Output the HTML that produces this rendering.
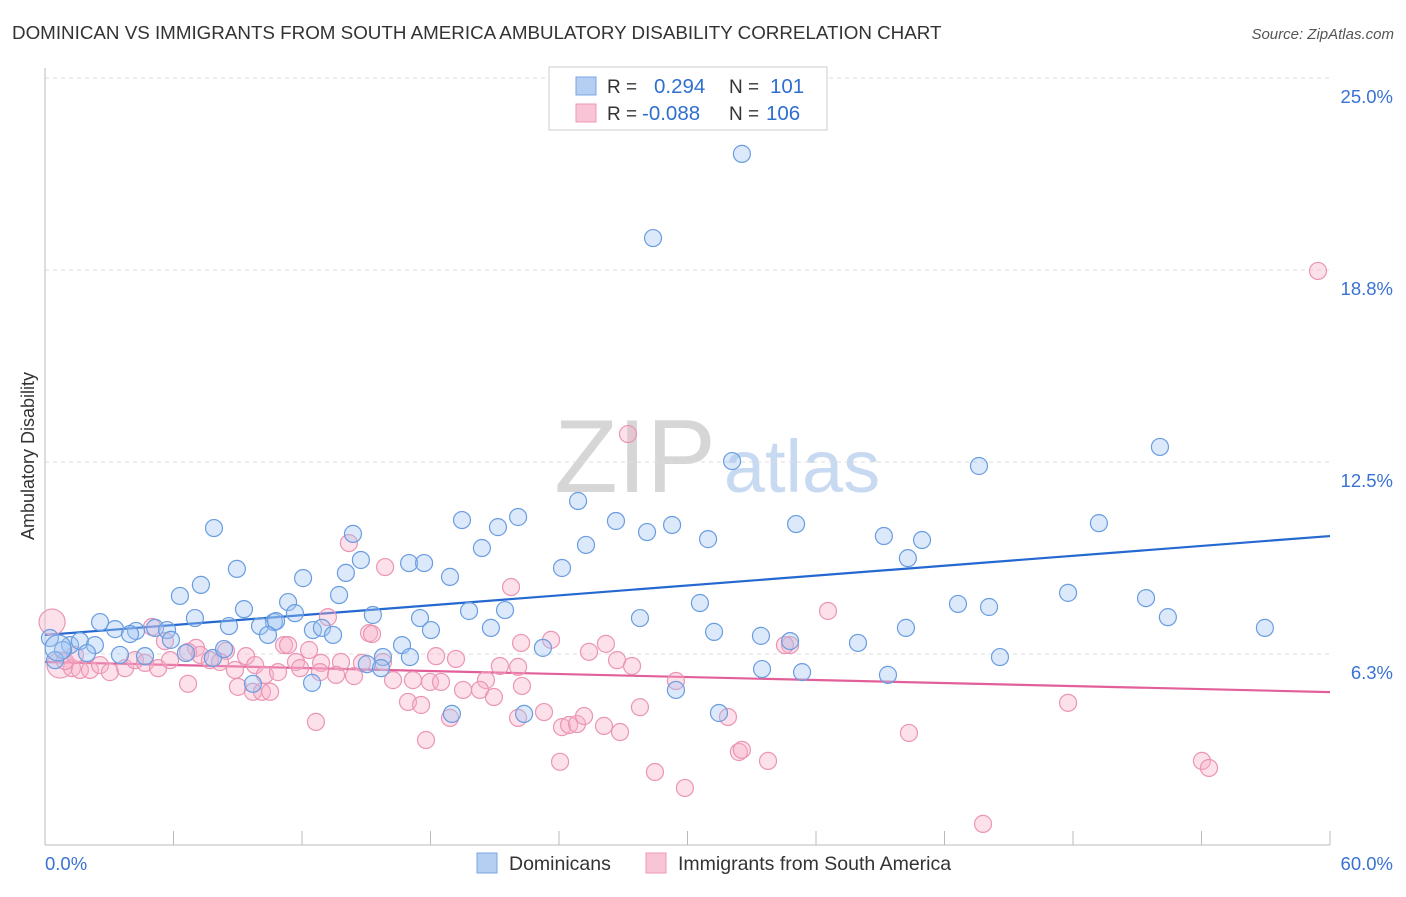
<!DOCTYPE html>
<html><head><meta charset="utf-8"><style>
body{margin:0;background:#fff;font-family:"Liberation Sans",sans-serif;}
svg text{font-family:"Liberation Sans",sans-serif;}
</style></head><body>
<svg id="chart" width="1406" height="892" viewBox="0 0 1406 892" xmlns="http://www.w3.org/2000/svg">
<text x="12" y="39" font-size="18.8" fill="#333">DOMINICAN VS IMMIGRANTS FROM SOUTH AMERICA AMBULATORY DISABILITY CORRELATION CHART</text>
<text x="1394" y="39" font-size="15" fill="#555" text-anchor="end" font-style="italic">Source: ZipAtlas.com</text>
<text transform="translate(34,456) rotate(-90)" font-size="18" fill="#333" text-anchor="middle">Ambulatory Disability</text>
<g>
<text x="635" y="492" font-size="104" fill="#d6d6d6" text-anchor="middle" font-family="Liberation Serif, serif">ZIP</text>
<text x="802" y="492" font-size="74" fill="#c8daf2" text-anchor="middle">atlas</text>
</g>
<g id="grid"></g>
<g id="axes"></g>
<g id="lines"></g>
<g id="pts"></g>
<g>
<rect x="549" y="67" width="278" height="63" fill="#fff" stroke="#ccc"/>
<rect x="576" y="77" width="20" height="18" fill="#b5cff2" stroke="#7aa6e0"/>
<rect x="576" y="104" width="20" height="18" fill="#f8c4d6" stroke="#eb9ab8"/>
<text x="607" y="93" font-size="19" fill="#333">R =</text>
<text x="654" y="93" font-size="20.5" fill="#2f6fd0">0.294</text>
<text x="729" y="93" font-size="19" fill="#333">N =</text>
<text x="770" y="93" font-size="20.5" fill="#2f6fd0">101</text>
<text x="607" y="120" font-size="19" fill="#333">R =</text>
<text x="642" y="120" font-size="20.5" fill="#2f6fd0">-0.088</text>
<text x="729" y="120" font-size="19" fill="#333">N =</text>
<text x="766" y="120" font-size="20.5" fill="#2f6fd0">106</text>
</g>
<g>
<rect x="477" y="853" width="20" height="20" fill="#b5cff2" stroke="#7aa6e0"/>
<text x="509" y="870" font-size="19.5" fill="#333">Dominicans</text>
<rect x="646" y="853" width="20" height="20" fill="#f8c4d6" stroke="#eb9ab8"/>
<text x="678" y="870" font-size="19.5" fill="#333">Immigrants from South America</text>
</g>
</svg>
<script>
const blueX=[32.54,28.39,52.06,32.08,43.61,24.89,19.47,22.09,21.15,26.66,29.28,35.07,49.21,7.89,14.38,28.11,30.96,39.17,40.95,20.40,25.26,40.29,14.75,17.00,17.70,24.14,8.96,14.05,12.05,18.91,7.28,6.30,13.73,47.77,51.41,30.58,9.29,11.35,19.80,21.48,42.63,44.08,15.31,7.00,11.67,10.69,17.51,27.78,52.43,2.57,8.59,10.04,3.27,4.25,5.14,5.70,10.79,12.51,12.93,13.45,20.82,18.02,31.24,33.43,34.79,40.20,56.96,10.41,3.97,0.23,1.17,1.63,2.33,5.88,16.67,23.25,37.96,0.84,1.96,3.50,4.67,6.58,7.84,8.36,15.78,17.04,44.59,15.03,15.69,33.48,35.35,39.36,12.47,9.71,29.46,19.00,22.37,31.47,0.47,0.61];
const blueY=[22.53,19.79,12.99,12.53,12.37,11.23,10.61,10.71,10.38,10.58,10.45,10.48,10.51,10.35,10.16,10.22,9.99,10.09,9.96,9.70,9.80,9.37,9.31,9.21,9.21,9.05,9.02,8.89,8.72,8.76,8.50,8.14,8.17,8.24,8.07,7.91,7.71,7.94,7.65,7.68,7.88,7.78,7.52,7.42,7.58,7.29,7.42,7.42,7.45,7.29,7.16,7.16,7.06,7.00,7.10,7.03,7.32,7.03,7.10,6.87,7.10,7.03,6.97,6.84,6.67,7.10,7.10,6.87,6.90,6.77,6.54,6.67,6.54,6.71,6.54,6.45,6.61,6.38,6.28,6.22,6.18,6.28,6.12,6.41,6.15,6.15,6.15,5.92,5.79,5.76,5.66,5.57,5.31,5.28,5.08,4.30,4.30,4.33,6.05,6.45];
const pinkX=[59.44,27.22,14.19,15.88,21.76,36.56,13.21,15.13,15.27,23.63,22.23,26.19,34.79,34.55,5.00,5.60,7.05,8.45,9.39,11.16,11.35,12.33,11.72,12.89,13.82,14.80,15.78,18.26,19.19,21.24,22.09,25.40,26.71,27.41,29.46,0.33,0.70,1.26,1.63,2.10,2.57,3.03,3.74,4.20,4.67,5.28,5.84,6.68,7.24,7.70,8.17,8.87,9.81,10.27,10.88,11.91,12.84,13.59,14.43,16.25,17.18,17.98,18.49,19.52,20.59,20.31,20.96,22.27,6.68,9.01,9.71,10.13,10.51,16.95,17.56,23.30,12.65,18.91,22.09,24.14,24.47,24.84,25.17,26.10,26.85,27.78,31.89,47.77,17.79,32.40,32.54,33.76,40.34,24.05,28.48,29.88,54.02,54.35,43.80,0.93,1.40];
const pinkY=[18.72,13.41,9.86,9.08,8.43,7.65,7.45,6.93,6.90,6.71,6.61,6.58,6.54,6.54,7.13,6.67,6.45,6.35,6.18,6.54,6.54,6.38,5.99,5.96,5.99,5.96,5.99,6.18,6.09,5.86,5.83,6.32,6.05,5.86,5.37,7.29,5.89,5.79,5.73,5.73,5.89,5.66,5.79,6.05,5.96,5.79,6.05,6.32,6.22,6.05,5.99,5.73,5.89,5.57,5.66,5.79,5.66,5.57,5.53,5.40,5.40,5.34,5.34,5.08,5.40,5.08,4.85,5.21,5.28,5.18,5.02,5.02,5.02,4.69,4.59,4.36,4.04,4.17,4.17,3.87,3.94,3.97,4.23,3.91,3.71,4.52,4.20,4.66,3.45,3.06,3.13,2.77,3.68,2.74,2.41,1.89,2.77,2.54,0.72,6.02,6.22];
const blueTrendX=[0,60];
const blueTrendY=[6.87,10.09];
const pinkTrendX=[0,60];
const pinkTrendY=[5.99,5.01];
const yTicks=[6.25,12.5,18.75,25];
const yTickLabels=["6.3%","12.5%","18.8%","25.0%"];
const xTicks=[0,6,12,18,24,30,36,42,48,54,60];
const xEndLabels=["0.0%","60.0%"];

const NS="http://www.w3.org/2000/svg";
const X=v=>45+v/60*1285;
const Y=v=>78+(25-v)*30.72;
function mk(parent,tag,attrs){const e=document.createElementNS(NS,tag);for(const k in attrs)e.setAttribute(k,attrs[k]);document.getElementById(parent).appendChild(e);return e;}
yTicks.forEach((t,i)=>{
  const l=mk('grid','line',{x1:45,x2:1330,y1:Y(t),y2:Y(t),stroke:'#ddd','stroke-dasharray':'4,4'});
  
  
  const tx=mk('grid','text',{x:1393,y:Y(t)+25,'font-size':18.5,fill:'#3a72d3','text-anchor':'end'});
  tx.textContent=yTickLabels[i];
  
  
});
const ax=mk('axes','line',{x1:45,x2:1330,y1:845,y2:845,stroke:'#bbb'});


const ay=mk('axes','line',{x1:45,x2:45,y1:68,y2:845,stroke:'#bbb'});


xTicks.forEach(t=>{
  const l=mk('axes','line',{x1:X(t),x2:X(t),y1:831,y2:845,stroke:'#bbb'});
  
  
});
const xl0=mk('axes','text',{x:45,y:870,'font-size':18.5,fill:'#3a72d3'});
xl0.textContent=xEndLabels[0];


const xl1=mk('axes','text',{x:1393,y:870,'font-size':18.5,fill:'#3a72d3','text-anchor':'end'});
xl1.textContent=xEndLabels[1];


function pts(xs,ys,fill,stroke,name,bigIdx){
  xs.forEach((x,i)=>{
    const r=bigIdx.includes(i)?13:8.5;
    const c=mk('pts','circle',{cx:X(x),cy:Y(ys[i]),r:r,fill:fill,stroke:stroke,'stroke-width':1.2});
    
    
  });
}
pts(pinkX,pinkY,'rgba(246,176,200,0.38)','#eb95b5','immigrants-point',[35,36]);
pts(blueX,blueY,'rgba(160,196,242,0.38)','#6a9de0','dominicans-point',[99]);
const bl=mk('lines','line',{x1:X(blueTrendX[0]),y1:Y(blueTrendY[0]),x2:X(blueTrendX[1]),y2:Y(blueTrendY[1]),stroke:'#2468d0','stroke-width':2.2});


const pl=mk('lines','line',{x1:X(pinkTrendX[0]),y1:Y(pinkTrendY[0]),x2:X(pinkTrendX[1]),y2:Y(pinkTrendY[1]),stroke:'#e2609a','stroke-width':2.2});


</script>
</body></html>
